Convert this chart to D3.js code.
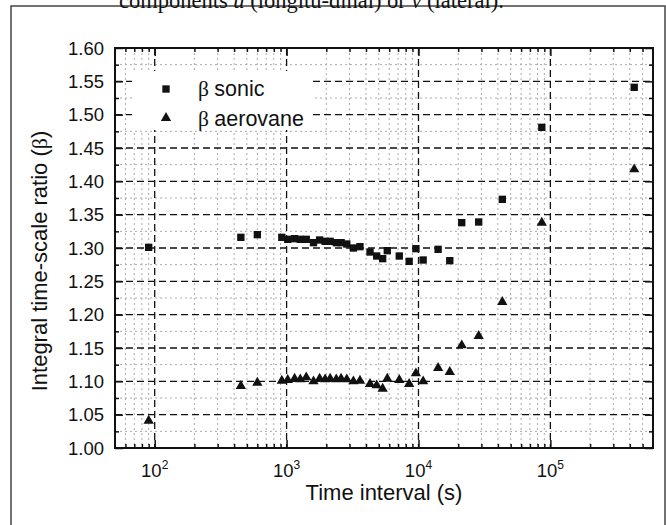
<!DOCTYPE html>
<html>
<head>
<meta charset="utf-8">
<script src="https://cdn.jsdelivr.net/npm/d3@7"></script>
<style>
  body { margin: 0; background: #fff; }
  svg { display: block; font-family: "Liberation Sans", Arial, sans-serif; }
</style>
</head>
<body>
<svg id="chart" width="666" height="525"></svg>
<script>
// data
const timeInterval = [90, 450, 600, 920, 1020, 1150, 1270, 1410, 1600, 1780, 1960, 2140, 2380, 2590, 2860, 3210,
  3600, 4290, 4820, 5350, 5800, 7150, 8500, 9560, 10850, 14090, 17270, 21280, 28610, 43220, 86100, 432200];
const betaSonic = [1.301, 1.316, 1.320, 1.316, 1.313, 1.314, 1.313, 1.313, 1.308, 1.312, 1.310, 1.310, 1.308, 1.308,
  1.306, 1.300, 1.302, 1.294, 1.288, 1.284, 1.296, 1.288, 1.280, 1.299, 1.282, 1.298, 1.281, 1.338, 1.339, 1.373, 1.481, 1.541];
const betaAerovane = [1.041, 1.093, 1.098, 1.101, 1.102, 1.104, 1.103, 1.106, 1.100, 1.104, 1.103, 1.104, 1.103, 1.104,
  1.103, 1.100, 1.101, 1.096, 1.094, 1.089, 1.104, 1.102, 1.096, 1.112, 1.100, 1.120, 1.114, 1.154, 1.168, 1.219, 1.338, 1.418];
const yTicks = [1.00, 1.05, 1.10, 1.15, 1.20, 1.25, 1.30, 1.35, 1.40, 1.45, 1.50, 1.55, 1.60];
const xDecades = [2, 3, 4, 5];
const legendLabels = ["sonic", "aerovane"];

const svg = d3.select("#chart");
const plotLeft = 115, plotRight = 653, plotTop = 48, plotBottom = 448;
const serif = "'Liberation Serif', 'Times New Roman', serif";

const x = d3.scaleLog().domain([50, 6e5]).range([plotLeft, plotRight]);
const y = d3.scaleLinear().domain([1, 1.6]).range([plotBottom, plotTop]);

// outer frame of the page figure + cut caption
svg.append("rect").attr("x", 11).attr("y", 6).attr("width", 654).attr("height", 600)
  .attr("fill", "none").attr("stroke", "#444").attr("stroke-width", 1.5);
const cap = svg.append("text").attr("x", 119).attr("y", 8)
  .attr("font-family", serif).attr("font-size", 22.5).attr("fill", "#111");
cap.append("tspan").text("components ");
cap.append("tspan").attr("font-style", "italic").text("u");
cap.append("tspan").text(" (longitu-dinal) or ");
cap.append("tspan").attr("font-style", "italic").text("v");
cap.append("tspan").text(" (lateral).");

// minor tick positions
const xMinor = [];
[10, 100, 1000, 10000, 100000].forEach(d => {
  for (let k = 2; k <= 9; k++) {
    const v = k * d;
    if (v > 50 && v < 6e5) xMinor.push(v);
  }
});
const yMinor = yTicks.slice(0, -1).map(v => v + 0.025);
const xMajor = xDecades.map(p => Math.pow(10, p));

// grid
const grid = svg.append("g");
grid.selectAll(".gxm").data(xMinor).join("line")
  .attr("x1", d => x(d)).attr("x2", d => x(d)).attr("y1", plotTop).attr("y2", plotBottom)
  .attr("stroke", "#aaa").attr("stroke-width", 1).attr("stroke-dasharray", "2,3");
grid.selectAll(".gym").data(yMinor).join("line")
  .attr("x1", plotLeft).attr("x2", plotRight).attr("y1", d => y(d)).attr("y2", d => y(d))
  .attr("stroke", "#aaa").attr("stroke-width", 1).attr("stroke-dasharray", "2,3");
grid.selectAll(".gxM").data(xMajor).join("line")
  .attr("x1", d => x(d)).attr("x2", d => x(d)).attr("y1", plotTop).attr("y2", plotBottom)
  .attr("stroke", "#111").attr("stroke-width", 1.3).attr("stroke-dasharray", "7,4");
grid.selectAll(".gyM").data(yTicks.slice(1, -1)).join("line")
  .attr("x1", plotLeft).attr("x2", plotRight).attr("y1", d => y(d)).attr("y2", d => y(d))
  .attr("stroke", "#111").attr("stroke-width", 1.3).attr("stroke-dasharray", "7,4");

// legend box (hides grid)
svg.append("rect").attr("x", 132).attr("y", 71).attr("width", 181).attr("height", 59).attr("fill", "#fff");

// axes, ticks inward on all four sides
const noLabel = () => "";
svg.append("g").attr("transform", `translate(0,${plotBottom})`)
  .call(d3.axisBottom(x).tickValues(xMajor).tickSize(-8).tickFormat(noLabel));
svg.append("g").attr("transform", `translate(0,${plotBottom})`)
  .call(d3.axisBottom(x).tickValues(xMinor).tickSize(-4).tickFormat(noLabel));
svg.append("g").attr("transform", `translate(0,${plotTop})`)
  .call(d3.axisTop(x).tickValues(xMajor).tickSize(-8).tickFormat(noLabel));
svg.append("g").attr("transform", `translate(0,${plotTop})`)
  .call(d3.axisTop(x).tickValues(xMinor).tickSize(-4).tickFormat(noLabel));
svg.append("g").attr("transform", `translate(${plotLeft},0)`)
  .call(d3.axisLeft(y).tickValues(yTicks).tickSize(-8).tickFormat(noLabel));
svg.append("g").attr("transform", `translate(${plotLeft},0)`)
  .call(d3.axisLeft(y).tickValues(yMinor).tickSize(-4).tickFormat(noLabel));
svg.append("g").attr("transform", `translate(${plotRight},0)`)
  .call(d3.axisRight(y).tickValues(yTicks).tickSize(-8).tickFormat(noLabel));
svg.append("g").attr("transform", `translate(${plotRight},0)`)
  .call(d3.axisRight(y).tickValues(yMinor).tickSize(-4).tickFormat(noLabel));
svg.selectAll(".domain").remove();
svg.selectAll(".tick line").attr("stroke", "#111").attr("stroke-width", 1.5);

svg.append("rect").attr("x", plotLeft).attr("y", plotTop)
  .attr("width", plotRight - plotLeft).attr("height", plotBottom - plotTop)
  .attr("fill", "none").attr("stroke", "#111").attr("stroke-width", 2);

// tick labels
svg.selectAll(".ylab").data(yTicks).join("text")
  .attr("x", plotLeft - 11).attr("y", d => y(d)).attr("dy", "0.36em")
  .attr("text-anchor", "end").attr("font-size", 18.5).attr("fill", "#111")
  .text(d => d.toFixed(2));
const xl = svg.selectAll(".xlab").data(xDecades).join("text")
  .attr("x", d => x(Math.pow(10, d))).attr("y", plotBottom + 29)
  .attr("text-anchor", "middle").attr("font-size", 18.5).attr("fill", "#111");
xl.append("tspan").text("10");
xl.append("tspan").attr("dy", -8).attr("font-size", 12).text(d => d);

// axis titles
svg.append("text").attr("x", (plotLeft + plotRight) / 2).attr("y", 500)
  .attr("text-anchor", "middle").attr("font-size", 22).attr("fill", "#111").text("Time interval (s)");
const yt = svg.append("text").attr("transform", "translate(47,261) rotate(-90)")
  .attr("text-anchor", "middle").attr("font-size", 22).attr("fill", "#111");
yt.append("tspan").text("Integral time-scale ratio (");
yt.append("tspan").attr("font-family", serif).text("\u03b2");
yt.append("tspan").text(")");

// points
const square = d3.symbol().type(d3.symbolSquare).size(54);
const triangle = d3.symbol().type(d3.symbolTriangle).size(46);
svg.append("g").selectAll("path").data(timeInterval).join("path")
  .attr("transform", (d, i) => `translate(${x(d)},${y(betaSonic[i])})`)
  .attr("d", square).attr("fill", "#111");
svg.append("g").selectAll("path").data(timeInterval).join("path")
  .attr("transform", (d, i) => `translate(${x(d)},${y(betaAerovane[i])})`)
  .attr("d", triangle).attr("fill", "#111");

// legend
const lg = svg.append("g");
lg.append("path").attr("transform", "translate(166,89)").attr("d", square).attr("fill", "#111");
lg.append("path").attr("transform", "translate(166,118)").attr("d", triangle).attr("fill", "#111");
const lt = lg.selectAll("text").data(legendLabels).join("text")
  .attr("x", 198).attr("y", (d, i) => 96 + i * 30)
  .attr("font-size", 21.5).attr("fill", "#111");
lt.append("tspan").attr("font-family", serif).text("\u03b2 ");
lt.append("tspan").text(d => d);
</script>
</body>
</html>
